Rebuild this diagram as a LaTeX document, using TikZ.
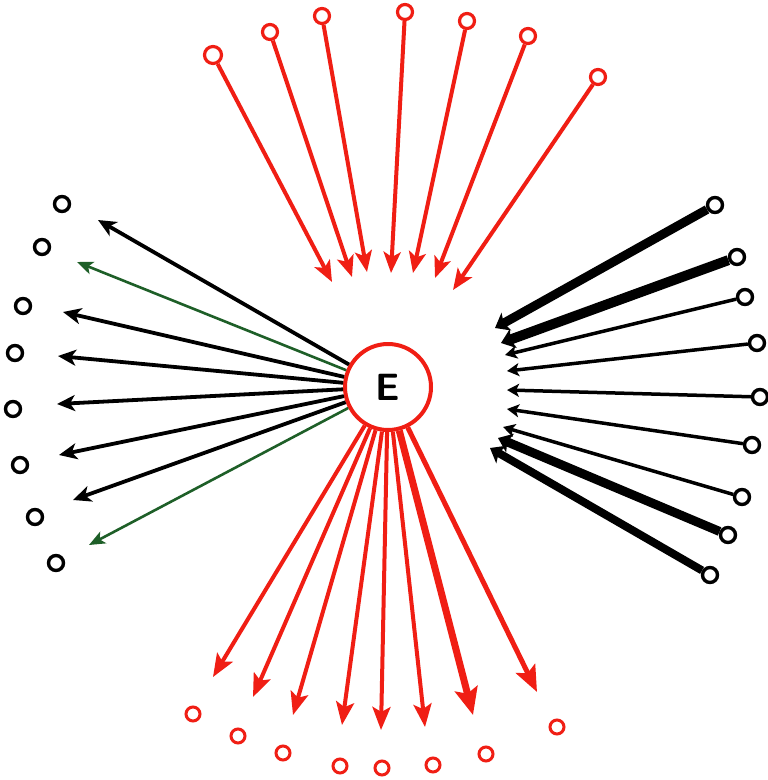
\documentclass[tikz,border=0pt]{standalone}
\usetikzlibrary{arrows.meta}
\definecolor{ered}{RGB}{240,30,20}
\definecolor{egreen}{RGB}{30,95,40}
\begin{document}
\begin{tikzpicture}[x=1pt,y=-1pt,
  dot/.style={circle,draw,line width=3.2pt,minimum size=15pt,inner sep=0pt,fill=white},
  reddot/.style={dot,draw=ered},
  blackdot/.style={dot,draw=black,line width=3.4pt},
  redarr/.style={draw=ered,line width=4pt,-{Stealth[length=21pt,width=17pt,inset=5pt]}},
  blackarr/.style={draw=black,line width=3.8pt,-{Stealth[length=18pt,width=16pt,inset=5pt]}},
  greenarr/.style={draw=egreen,line width=2.6pt,-{Stealth[length=16pt,width=13pt,inset=4pt]}},
  thickin/.style={draw=black,line width=9pt,-{Stealth[length=13pt,width=20pt,inset=3pt]}},
  thinin/.style={draw=black,line width=3.5pt,-{Stealth[length=12pt,width=13pt,inset=3pt]}}]
\useasboundingbox[fill=white] (0,0) rectangle (768,780);

% central node
\node[circle,draw=ered,line width=4pt,minimum size=86pt,inner sep=0pt,fill=white,
      font=\sffamily\bfseries\fontsize{38}{38}\selectfont] (E) at (388,387) {E};

% top red incoming
\node[reddot,minimum size=17pt] (tc1) at (213,55) {};
\node[reddot] (tc2) at (270,32) {};
\node[reddot] (tc3) at (322,16) {};
\node[reddot] (tc4) at (405,12) {};
\node[reddot] (tc5) at (467,21) {};
\node[reddot] (tc6) at (528,36) {};
\node[reddot] (tc7) at (598,77) {};
\coordinate (tt1) at (332,282);
\coordinate (tt2) at (352,277);
\coordinate (tt3) at (367,272);
\coordinate (tt4) at (391,273);
\coordinate (tt5) at (413,273);
\coordinate (tt6) at (435,278);
\coordinate (tt7) at (453,290);
\foreach \i in {1,...,7} \draw[redarr] (tc\i) -- (tt\i);

% left outgoing arrows
\coordinate (lt1) at (98,220);
\coordinate (lt2) at (77,262);
\coordinate (lt3) at (63,312);
\coordinate (lt4) at (58,356);
\coordinate (lt5) at (57,404);
\coordinate (lt6) at (59,455);
\coordinate (lt7) at (73,500);
\coordinate (lt8) at (89,545);
\draw[blackarr] (E) -- (lt1);
\draw[greenarr] (E) -- (lt2);
\draw[blackarr] (E) -- (lt3);
\draw[blackarr] (E) -- (lt4);
\draw[blackarr] (E) -- (lt5);
\draw[blackarr] (E) -- (lt6);
\draw[blackarr] (E) -- (lt7);
\draw[greenarr] (E) -- (lt8);

% left black dots
\node[blackdot] (ld1) at (62,204) {};
\node[blackdot] (ld2) at (42,247) {};
\node[blackdot] (ld3) at (23,306) {};
\node[blackdot] (ld4) at (15,353) {};
\node[blackdot] (ld5) at (13,409) {};
\node[blackdot] (ld6) at (20,465) {};
\node[blackdot] (ld7) at (35,517) {};
\node[blackdot] (ld8) at (56,563) {};

% right incoming black arrows
\node[blackdot] (rc1) at (715,205) {};
\node[blackdot] (rc2) at (737,257) {};
\node[blackdot] (rc3) at (745,297) {};
\node[blackdot] (rc4) at (757,343) {};
\node[blackdot] (rc5) at (760,397) {};
\node[blackdot] (rc6) at (752,445) {};
\node[blackdot] (rc7) at (742,497) {};
\node[blackdot] (rc8) at (728,535) {};
\node[blackdot] (rc9) at (710,575) {};
\coordinate (rt1) at (495,328);
\coordinate (rt2) at (501,343);
\coordinate (rt3) at (505,355);
\coordinate (rt4) at (507,371);
\coordinate (rt5) at (507,390);
\coordinate (rt6) at (507,409);
\coordinate (rt7) at (503,427);
\coordinate (rt8) at (498,438);
\coordinate (rt9) at (490,448);
\draw[thickin] (rc1) -- (rt1);
\draw[thickin,line width=10pt] (rc2) -- (rt2);
\draw[thinin] (rc3) -- (rt3);
\draw[thinin] (rc4) -- (rt4);
\draw[thinin] (rc5) -- (rt5);
\draw[thinin] (rc6) -- (rt6);
\draw[thinin] (rc7) -- (rt7);
\draw[thickin] (rc8) -- (rt8);
\draw[thickin,line width=8pt] (rc9) -- (rt9);

% bottom red outgoing
\coordinate (bt1) at (213,677);
\coordinate (bt2) at (253,697);
\coordinate (bt3) at (293,715);
\coordinate (bt4) at (342,725);
\coordinate (bt5) at (381,730);
\coordinate (bt6) at (425,727);
\coordinate (bt7) at (473,715);
\coordinate (bt8) at (537,692);
\foreach \i in {1,...,6} \draw[redarr,-{Stealth[length=23pt,width=18pt,inset=5pt]}] (E) -- (bt\i);
\draw[redarr,line width=7pt,-{Stealth[length=27pt,width=23pt,inset=5pt]}] (E) -- (bt7);
\draw[redarr,line width=5pt,-{Stealth[length=26pt,width=21pt,inset=5pt]}] (E) -- (bt8);

% bottom red dots
\node[reddot,line width=3pt,minimum size=14pt] (bd1) at (193,714) {};
\node[reddot,line width=3pt,minimum size=14pt] (bd2) at (238,736) {};
\node[reddot,line width=3pt,minimum size=14pt] (bd3) at (283,753) {};
\node[reddot,line width=3pt,minimum size=14pt] (bd4) at (340,766) {};
\node[reddot,line width=3pt,minimum size=14pt] (bd5) at (382,768) {};
\node[reddot,line width=3pt,minimum size=14pt] (bd6) at (433,765) {};
\node[reddot,line width=3pt,minimum size=14pt] (bd7) at (486,754) {};
\node[reddot,line width=3pt,minimum size=14pt] (bd8) at (557,727) {};
\end{tikzpicture}
\end{document}
